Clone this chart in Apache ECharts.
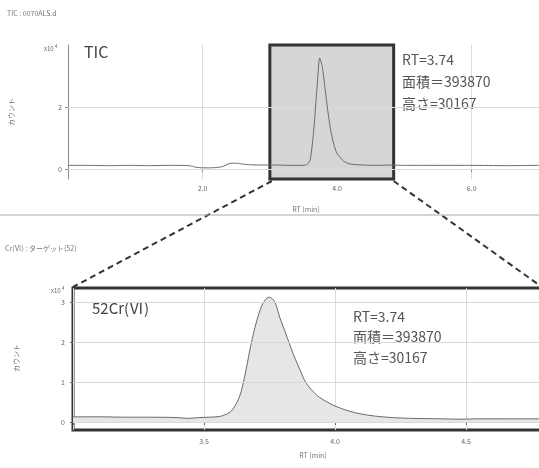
<!DOCTYPE html>
<html>
<head>
<meta charset="utf-8">
<script src="https://cdn.jsdelivr.net/npm/echarts@6/dist/echarts.min.js"></script>
<style>
html,body{margin:0;padding:0;background:#fff;}
#c{width:539px;height:468px;}
</style>
</head>
<body>
<div id="c"></div>
<script>
// ---- data ----
const ticTime  = [0, 0.3, 0.6, 0.9, 1.2, 1.5, 1.8, 1.9, 2.0, 2.1, 2.2, 2.3, 2.4, 2.5, 2.6, 2.7, 2.9, 3.1, 3.3, 3.5, 3.55, 3.6, 3.65, 3.7, 3.74, 3.78, 3.82, 3.86, 3.9, 3.95, 4.0, 4.1, 4.2, 4.4, 4.6, 4.8, 5.0, 5.5, 6.0, 6.5, 7.0];
const ticValue = [0.12, 0.12, 0.11, 0.12, 0.11, 0.12, 0.11, 0.06, 0.04, 0.04, 0.05, 0.08, 0.18, 0.19, 0.16, 0.14, 0.13, 0.13, 0.12, 0.12, 0.14, 0.3, 1.2, 2.6, 3.58, 3.3, 2.6, 1.9, 1.3, 0.8, 0.5, 0.25, 0.16, 0.13, 0.12, 0.13, 0.12, 0.12, 0.12, 0.11, 0.12];

const crTime  = [3.0, 3.1, 3.2, 3.3, 3.4, 3.44, 3.48, 3.52, 3.56, 3.58, 3.6, 3.62, 3.64, 3.66, 3.68, 3.7, 3.72, 3.74, 3.75, 3.77, 3.79, 3.81, 3.84, 3.86, 3.89, 3.92, 3.94, 3.97, 4.0, 4.05, 4.1, 4.15, 4.22, 4.3, 4.4, 4.48, 4.55, 4.65, 4.78];
const crValue = [0.13, 0.13, 0.12, 0.12, 0.11, 0.09, 0.11, 0.12, 0.14, 0.18, 0.25, 0.42, 0.72, 1.29, 1.96, 2.5, 2.9, 3.1, 3.12, 3.0, 2.6, 2.25, 1.71, 1.4, 0.97, 0.74, 0.62, 0.5, 0.4, 0.28, 0.2, 0.15, 0.11, 0.09, 0.08, 0.07, 0.08, 0.08, 0.08];

const topYTicks = [0, 2];
const crYTicks  = [0, 1, 2, 3];
const zoomRange = [3.0, 4.84];   // highlighted window in the TIC (min)
const ticText = ['RT=3.74', '面積＝393870', '高さ=30167'];
const crText  = ['RT=3.74', '面積＝393870', '高さ=30167'];

const FONT = '"Noto Sans CJK JP", "Noto Sans", sans-serif';
const chart = echarts.init(document.getElementById('c'), null, {renderer: 'canvas'});

const gridLine = {color: '#dcdcdc', width: 1, type: 'solid'};
const smallLabel = {color: '#666', fontSize: 7, fontFamily: FONT};

const option = {
  animation: false,
  backgroundColor: '#fff',
  grid: [
    {left: 68, top: 45, right: 0, height: 134, containLabel: false, outerBoundsMode: 'none'},
    {left: 73, top: 288, right: -3, height: 142, containLabel: false, outerBoundsMode: 'none',
     show: true, borderColor: '#333', borderWidth: 3, backgroundColor: 'transparent'}
  ],
  xAxis: [
    {gridIndex: 0, type: 'value', min: 0, max: 7, interval: 2,
     axisLine: {show: true, lineStyle: {color: '#888', width: 1}},
     axisTick: {show: true, length: 3, lineStyle: {color: '#888'}},
     axisLabel: Object.assign({margin: 6, showMaxLabel: false, formatter: v => v === 0 ? '' : v.toFixed(1)}, smallLabel),
     splitLine: {show: true, lineStyle: gridLine}},
    {gridIndex: 1, type: 'value', min: 3.0, max: 4.79, interval: 0.5,
     axisLine: {show: false},
     axisTick: {show: true, length: 3, lineStyle: {color: '#666'}},
     axisLabel: Object.assign({margin: 8, showMaxLabel: false, formatter: v => (Math.abs(v - 3) < 1e-6 || v > 4.6) ? '' : v.toFixed(1)}, smallLabel),
     splitLine: {show: true, lineStyle: gridLine}}
  ],
  yAxis: [
    {gridIndex: 0, type: 'value', min: -0.32, max: 4,
     axisLine: {show: true, lineStyle: {color: '#888', width: 1}},
     axisTick: {show: true, length: 3, customValues: topYTicks, lineStyle: {color: '#888'}},
     axisLabel: Object.assign({margin: 6, customValues: topYTicks, showMaxLabel: true, showMinLabel: true}, smallLabel),
     splitLine: {show: false}},
    {gridIndex: 1, type: 'value', min: -0.2, max: 3.35,
     axisLine: {show: false},
     axisTick: {show: true, length: 3, customValues: crYTicks, lineStyle: {color: '#666'}},
     axisLabel: Object.assign({margin: 8, customValues: crYTicks, showMaxLabel: true, showMinLabel: true}, smallLabel),
     splitLine: {show: false}}
  ],
  series: [
    {type: 'line', xAxisIndex: 0, yAxisIndex: 0, showSymbol: false, symbol: 'none',
     data: ticTime.map((t, i) => [t, ticValue[i]]),
     lineStyle: {color: '#6a6a6a', width: 1}, z: 5, smooth: 0.2,
     markArea: {silent: true, itemStyle: {color: '#d6d6d6', borderColor: '#333', borderWidth: 3},
       data: [[{xAxis: zoomRange[0]}, {xAxis: zoomRange[1]}]]},
     markLine: {silent: true, symbol: 'none', label: {show: false}, lineStyle: gridLine,
       data: topYTicks.map(v => ({yAxis: v}))}
    },
    {type: 'line', xAxisIndex: 1, yAxisIndex: 1, showSymbol: false, symbol: 'none',
     data: crTime.map((t, i) => [t, crValue[i]]), smooth: 0.3,
     lineStyle: {color: '#6a6a6a', width: 1},
     areaStyle: {color: '#e6e6e6', opacity: 1},
     markLine: {silent: true, symbol: 'none', label: {show: false}, lineStyle: {color: '#d8d8d8', width: 1, type: 'solid'},
       data: crYTicks.map(v => ({yAxis: v}))}
    }
  ]
};
chart.setOption(option);

// connectors and texts
const p1a = chart.convertToPixel({xAxisIndex: 0, yAxisIndex: 0}, [zoomRange[0], -0.32]);
const p1b = chart.convertToPixel({xAxisIndex: 0, yAxisIndex: 0}, [zoomRange[1], -0.32]);
const p2a = chart.convertToPixel({xAxisIndex: 1, yAxisIndex: 1}, [3.0, 3.35]);
const p2b = chart.convertToPixel({xAxisIndex: 1, yAxisIndex: 1}, [4.79, 3.35]);
const dash = {stroke: '#333', lineWidth: 2, lineDash: [6, 4]};

const txt = (x, y, text, size, color, extra) => Object.assign({
  type: 'text', left: x, top: y, silent: true,
  style: {text: text, fontSize: size, fill: color, fontFamily: FONT}
}, extra || {});

const graphics = [
  {type: 'line', silent: true, shape: {x1: p1a[0] + 2, y1: p1a[1] + 2, x2: p2a[0], y2: p2a[1] - 1}, style: dash},
  {type: 'line', silent: true, shape: {x1: p1b[0], y1: p1b[1] + 2, x2: p2b[0], y2: p2b[1] - 1}, style: dash},
  {type: 'line', silent: true, shape: {x1: 0, y1: 215, x2: 539, y2: 215}, style: {stroke: '#aaa', lineWidth: 1}},
  txt(7, 10, 'TIC : 0070ALS.d', 7, '#777'),
  txt(5, 245, 'Cr(Ⅵ) : ターゲット(52)', 7, '#777'),
  {type: 'text', left: 44, top: 44, silent: true,
   style: {text: '{a|x10}{b|4}', rich: {a: {fontSize: 6, fill: '#666', fontFamily: FONT}, b: {fontSize: 5, fill: '#666', fontFamily: FONT, padding: [0, 0, 4, 1]}}}},
  {type: 'text', left: 51, top: 286, silent: true,
   style: {text: '{a|x10}{b|4}', rich: {a: {fontSize: 6, fill: '#666', fontFamily: FONT}, b: {fontSize: 5, fill: '#666', fontFamily: FONT, padding: [0, 0, 4, 1]}}}},
  {type: 'text', x: 11, y: 112, rotation: Math.PI / 2, silent: true,
   style: {text: 'カウント', fontSize: 7, fill: '#777', fontFamily: FONT, align: 'center', verticalAlign: 'middle'}},
  {type: 'text', x: 16, y: 358, rotation: Math.PI / 2, silent: true,
   style: {text: 'カウント', fontSize: 7, fill: '#777', fontFamily: FONT, align: 'center', verticalAlign: 'middle'}},
  {type: 'text', x: 306, y: 209, silent: true,
   style: {text: 'RT (min)', fontSize: 7, fill: '#777', fontFamily: FONT, align: 'center', verticalAlign: 'middle'}},
  {type: 'text', x: 313, y: 455, silent: true,
   style: {text: 'RT (min)', fontSize: 7, fill: '#777', fontFamily: FONT, align: 'center', verticalAlign: 'middle'}},
  txt(84, 44, 'TIC', 16, '#444'),
  txt(92, 301, '52Cr(Ⅵ)', 15, '#444'),
  {type: 'text', left: 402, top: 49, silent: true,
   style: {text: ticText.join('\n'), fontSize: 14, lineHeight: 22, fill: '#555', fontFamily: FONT}},
  {type: 'text', left: 353, top: 306, silent: true,
   style: {text: crText.join('\n'), fontSize: 14, lineHeight: 20.5, fill: '#555', fontFamily: FONT}}
];
chart.setOption({graphic: graphics});
</script>
</body>
</html>
